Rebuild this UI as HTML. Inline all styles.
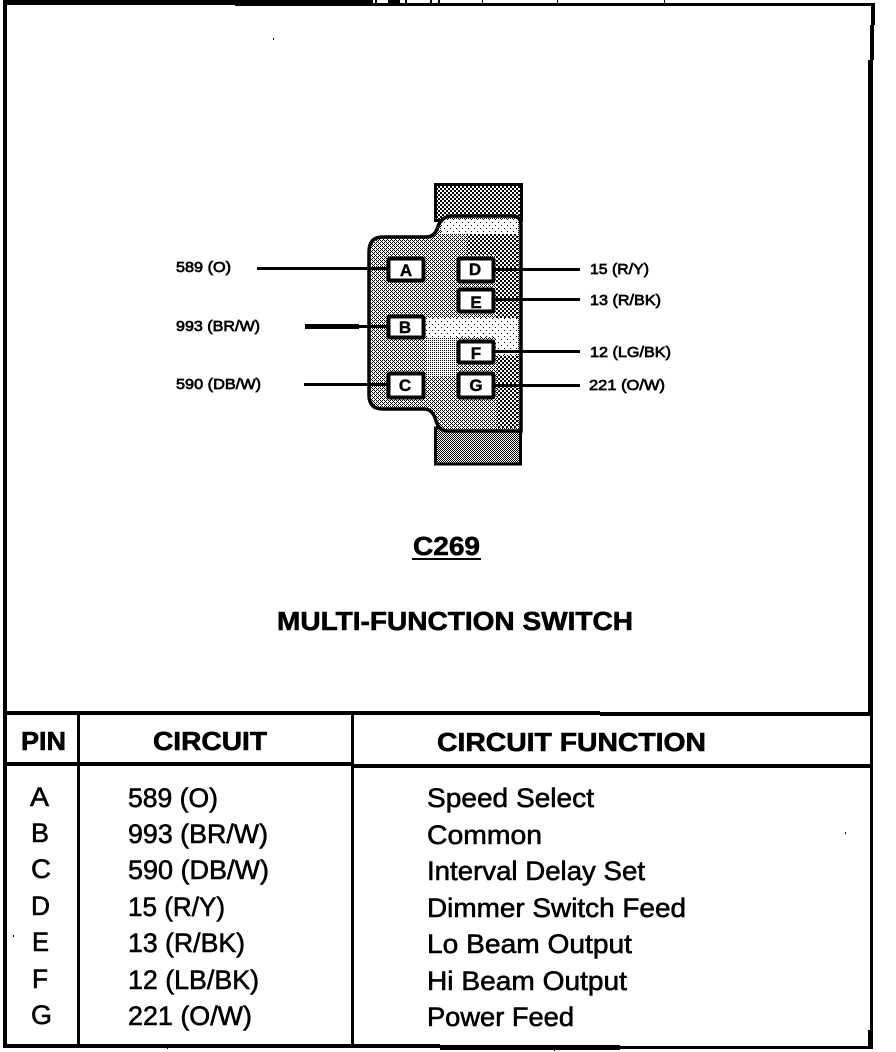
<!DOCTYPE html>
<html><head><meta charset="utf-8"><style>
html,body{margin:0;padding:0;background:#fff;width:896px;height:1052px;overflow:hidden}
svg{display:block}
text{font-family:"Liberation Sans",sans-serif;fill:#000}
.r{font-size:27px;stroke:#000;stroke-width:.6px}
.h{font-size:26px;font-weight:bold;stroke:#000;stroke-width:.6px}
.s{font-size:15px;stroke:#000;stroke-width:.7px}
.p{font-size:17px;font-weight:bold;text-anchor:middle;stroke:#000;stroke-width:.4px}
</style></head><body>
<svg width="896" height="1052" viewBox="0 0 896 1052" xmlns="http://www.w3.org/2000/svg">
<defs>
<pattern id="m" width="2" height="2" patternUnits="userSpaceOnUse" shape-rendering="crispEdges"><rect width="2" height="2" fill="#fff"/><rect width="1" height="1"/><rect x="1" y="1" width="1" height="1"/></pattern>
<pattern id="l" width="4" height="4" patternUnits="userSpaceOnUse" shape-rendering="crispEdges"><rect width="4" height="4" fill="#fff"/><rect x="0" y="0" width="1" height="1"/><rect x="2" y="0" width="1" height="1"/><rect x="1" y="1" width="1" height="1"/><rect x="0" y="2" width="1" height="1"/><rect x="2" y="2" width="1" height="1"/><rect x="3" y="3" width="1" height="1"/></pattern>
<pattern id="k" width="2" height="2" patternUnits="userSpaceOnUse" shape-rendering="crispEdges"><rect width="2" height="2" fill="#fff"/><rect width="1" height="1"/></pattern>
<pattern id="w" width="6" height="6" patternUnits="userSpaceOnUse" shape-rendering="crispEdges"><rect width="6" height="6" fill="#fff"/><rect width="1" height="1"/><rect x="3" y="3" width="1" height="1"/></pattern>
<pattern id="d" width="4" height="4" patternUnits="userSpaceOnUse" shape-rendering="crispEdges"><rect width="4" height="4" fill="#fff"/><rect width="2" height="2"/><rect x="2" y="2" width="2" height="2"/></pattern>
</defs>
<rect width="896" height="1052" fill="#fff"/>
<g shape-rendering="crispEdges">
<rect x="3" y="0" width="232" height="5"/><rect x="235" y="0" width="138" height="6"/><rect x="373" y="3" width="502" height="3"/>
<rect x="170" y="0" width="1" height="4"/><rect x="375" y="0" width="2" height="3"/><rect x="388" y="0" width="12" height="3"/><rect x="405" y="0" width="2" height="3"/><rect x="430" y="0" width="2" height="3"/><rect x="438" y="0" width="2" height="3"/><rect x="482" y="0" width="1" height="3"/><rect x="557" y="0" width="1" height="3"/><rect x="664" y="0" width="1" height="3"/>
<rect x="3" y="0" width="4" height="1048"/>
<rect x="871" y="3" width="4" height="22"/><rect x="870" y="25" width="4" height="35"/><rect x="868" y="60" width="5" height="652"/><rect x="870" y="712" width="3" height="318"/><rect x="868" y="1030" width="5" height="19"/>
<rect x="3" y="1044" width="437" height="4"/><rect x="440" y="1045" width="180" height="5"/><rect x="620" y="1046" width="253" height="3"/>
<rect x="3" y="711" width="597" height="4"/><rect x="600" y="712" width="273" height="4"/>
<rect x="3" y="762" width="350" height="4"/><rect x="351" y="764" width="522" height="4"/>
<rect x="77" y="713" width="3" height="333"/><rect x="351" y="713" width="3" height="333"/>
<rect x="273" y="38" width="1" height="2"/><rect x="845" y="832" width="1" height="2"/><rect x="13" y="935" width="1" height="2"/>
<rect x="167" y="1046" width="1" height="3"/><rect x="554" y="1050" width="1" height="1"/>
</g>

<!-- connector -->
<rect x="435.500" y="184.500" width="86" height="36" fill="url(#d)" stroke="#000" stroke-width="3"/>
<rect x="435.500" y="428" width="85" height="36" fill="url(#m)" stroke="#000" stroke-width="3"/>
<path d="M369 252Q369 237 383 237L426 237Q434 237 437 229Q441 216 452 216L512 216Q521 216 521 225L521 431L448 431Q439 431 436 421Q433 409 424 409L383 409Q369 409 369 395Z" fill="url(#l)" stroke="none"/>
<g shape-rendering="crispEdges">
<rect x="441" y="219" width="77" height="15" fill="url(#w)"/>
<rect x="467" y="234" width="51" height="21" fill="url(#d)"/>
<rect x="496" y="255" width="22" height="66" fill="url(#d)"/>
<rect x="426" y="318" width="92" height="19" fill="url(#w)"/>
<rect x="496" y="337" width="22" height="18" fill="url(#w)"/>
<rect x="426" y="337" width="31" height="40" fill="url(#k)"/>
<rect x="497" y="356" width="21" height="72" fill="url(#d)"/>
</g>
<path d="M369 252Q369 237 383 237L426 237Q434 237 437 229Q441 216 452 216L512 216Q521 216 521 225L521 431L448 431Q439 431 436 421Q433 409 424 409L383 409Q369 409 369 395Z" fill="none" stroke="#000" stroke-width="3.500"/>

<g shape-rendering="crispEdges">
<rect x="257" y="267" width="130" height="3"/>
<rect x="305" y="324" width="54" height="5"/><rect x="359" y="325" width="28" height="3"/>
<rect x="304" y="383" width="83" height="3"/>
<rect x="495" y="268" width="85" height="3"/>
<rect x="495" y="298" width="85" height="3"/>
<rect x="495" y="350" width="85" height="3"/>
<rect x="495" y="384" width="85" height="3"/>
</g>

<g fill="#fff" stroke="#000" stroke-width="4">
<rect x="388.500" y="258.500" width="35" height="22" rx="1.500"/>
<rect x="388.500" y="316.500" width="35" height="21" rx="1.500"/>
<rect x="388.500" y="373.500" width="35" height="24" rx="1.500"/>
<rect x="458.500" y="258.500" width="35" height="23" rx="1.500"/>
<rect x="458.500" y="289.500" width="35" height="22" rx="1.500"/>
<rect x="458.500" y="341.500" width="35" height="21" rx="1.500"/>
<rect x="458.500" y="373.500" width="35" height="24" rx="1.500"/>
</g>
<text class="p" x="406" y="276">A</text>
<text class="p" x="405" y="333">B</text>
<text class="p" x="405" y="391">C</text>
<text class="p" x="475" y="275">D</text>
<text class="p" x="476" y="308">E</text>
<text class="p" x="476" y="359">F</text>
<text class="p" x="476" y="391">G</text>

<text class="s" x="176" y="272" textLength="55" lengthAdjust="spacingAndGlyphs">589 (O)</text>
<text class="s" x="176" y="331" textLength="84" lengthAdjust="spacingAndGlyphs">993 (BR/W)</text>
<text class="s" x="176" y="389" textLength="85" lengthAdjust="spacingAndGlyphs">590 (DB/W)</text>
<text class="s" x="590" y="274" textLength="59" lengthAdjust="spacingAndGlyphs">15 (R/Y)</text>
<text class="s" x="590" y="305" textLength="71" lengthAdjust="spacingAndGlyphs">13 (R/BK)</text>
<text class="s" x="590" y="357" textLength="81" lengthAdjust="spacingAndGlyphs">12 (LG/BK)</text>
<text class="s" x="589" y="390" textLength="76" lengthAdjust="spacingAndGlyphs">221 (O/W)</text>

<text class="h" x="413" y="555" textLength="67" lengthAdjust="spacingAndGlyphs">C269</text>
<rect x="412" y="558" width="69" height="2" shape-rendering="crispEdges"/>
<text class="h" x="277" y="630" textLength="356" lengthAdjust="spacingAndGlyphs">MULTI-FUNCTION SWITCH</text>

<text class="h" x="21" y="750" textLength="45" lengthAdjust="spacingAndGlyphs">PIN</text>
<text class="h" x="153" y="750" textLength="114" lengthAdjust="spacingAndGlyphs">CIRCUIT</text>
<text class="h" x="437" y="751" textLength="269" lengthAdjust="spacingAndGlyphs">CIRCUIT FUNCTION</text>

<text class="r" x="30" y="806" textLength="19" lengthAdjust="spacingAndGlyphs">A</text>
<text class="r" x="31" y="842" textLength="18" lengthAdjust="spacingAndGlyphs">B</text>
<text class="r" x="31" y="878" textLength="20" lengthAdjust="spacingAndGlyphs">C</text>
<text class="r" x="31" y="915" textLength="19" lengthAdjust="spacingAndGlyphs">D</text>
<text class="r" x="32" y="951" textLength="17" lengthAdjust="spacingAndGlyphs">E</text>
<text class="r" x="32" y="988" textLength="16" lengthAdjust="spacingAndGlyphs">F</text>
<text class="r" x="31" y="1024" textLength="21" lengthAdjust="spacingAndGlyphs">G</text>

<text class="r" x="128" y="807" textLength="90" lengthAdjust="spacingAndGlyphs">589 (O)</text>
<text class="r" x="128" y="843" textLength="140" lengthAdjust="spacingAndGlyphs">993 (BR/W)</text>
<text class="r" x="128" y="879" textLength="141" lengthAdjust="spacingAndGlyphs">590 (DB/W)</text>
<text class="r" x="128" y="916" textLength="97" lengthAdjust="spacingAndGlyphs">15 (R/Y)</text>
<text class="r" x="128" y="952" textLength="117" lengthAdjust="spacingAndGlyphs">13 (R/BK)</text>
<text class="r" x="128" y="989" textLength="131" lengthAdjust="spacingAndGlyphs">12 (LB/BK)</text>
<text class="r" x="128" y="1025" textLength="124" lengthAdjust="spacingAndGlyphs">221 (O/W)</text>

<text class="r" x="427" y="807" textLength="167" lengthAdjust="spacingAndGlyphs">Speed Select</text>
<text class="r" x="427" y="844" textLength="115" lengthAdjust="spacingAndGlyphs">Common</text>
<text class="r" x="427" y="880" textLength="218" lengthAdjust="spacingAndGlyphs">Interval Delay Set</text>
<text class="r" x="427" y="917" textLength="259" lengthAdjust="spacingAndGlyphs">Dimmer Switch Feed</text>
<text class="r" x="427" y="953" textLength="205" lengthAdjust="spacingAndGlyphs">Lo Beam Output</text>
<text class="r" x="427" y="990" textLength="200" lengthAdjust="spacingAndGlyphs">Hi Beam Output</text>
<text class="r" x="427" y="1026" textLength="147" lengthAdjust="spacingAndGlyphs">Power Feed</text>
</svg>
</body></html>
